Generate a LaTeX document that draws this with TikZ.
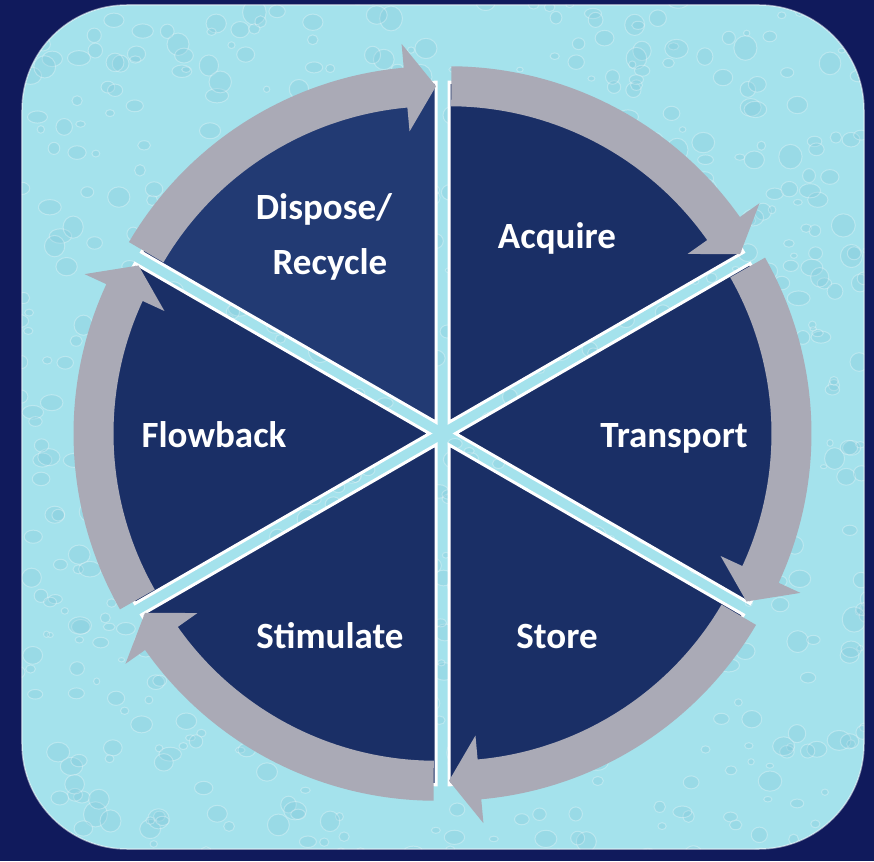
\documentclass[tikz,border=0pt]{standalone}
\usepackage{fontspec}
\setmainfont{Carlito}
\definecolor{bgnavy}{RGB}{16,26,92}
\definecolor{pane}{RGB}{164,226,236}
\definecolor{panedark}{RGB}{118,192,212}
\definecolor{sect}{RGB}{26,47,102}
\definecolor{sectlight}{RGB}{34,58,115}
\definecolor{arrowgray}{RGB}{170,170,182}
\tikzset{
  lbl/.style={text=white, font=\fontsize{37}{55}\selectfont\bfseries, anchor=base, inner sep=0pt},
  sectorfill/.style={draw=white, line width=3pt, line join=miter},
  arrowband/.style={fill=arrowgray}
}
\newcommand\drawsector[3]{% #1 start angle, #2 end angle, #3 colour
  \pgfmathsetmacro\mid{(#1+#2)/2}
  \pgfmathsetmacro\tst{#1-0.4}
  \pgfmathsetmacro\hb{#2+5.2}
  \begin{scope}[shift={(\mid:13)}]
    \filldraw[sectorfill, fill=#3] (0,0) -- (#1:340) arc[start angle=#1, end angle=#2, radius=340] -- cycle;
    \fill[arrowband] (\tst:356) arc[start angle=\tst, end angle=\hb, radius=356]
       -- (\hb:380) -- (#2:336) -- (\hb:292) -- (\hb:316)
       arc[start angle=\hb, end angle=\tst, radius=316] -- cycle;
  \end{scope}
}
\begin{document}
\begin{tikzpicture}[x=1pt,y=1pt]
\useasboundingbox (-442.5,-427.5) rectangle (431.5,433.5);
\fill[bgnavy] (-442.5,-427.5) rectangle (431.5,433.5);
\fill[pane, rounded corners=105pt] (-420.5,-415.5) rectangle (421.5,428.5);
\begin{scope}
  \clip[rounded corners=105pt] (-420.5,-415.5) rectangle (421.5,428.5);
  \pgfmathsetseed{11}
  \foreach \i in {1,...,900}{
    \pgfmathsetmacro\xx{rnd*860-430}
    \pgfmathsetmacro\yy{rnd*860-425}
    \pgfmathsetmacro\rr{3+rnd*9}
    \pgfmathsetmacro\ss{0.6+rnd*0.5}
    \fill[panedark, opacity=0.22] (\xx,\yy) ellipse [x radius=\rr, y radius=\rr*\ss];
    \draw[white, opacity=0.3, line width=1pt] (\xx,\yy) ellipse [x radius=\rr, y radius=\rr*\ss];
  }
\end{scope}
\draw[white, opacity=0.5, line width=1.5pt, rounded corners=105pt] (-420.5,-415.5) rectangle (421.5,428.5);
\drawsector{90}{30}{sect}
\drawsector{30}{-30}{sect}
\drawsector{-30}{-90}{sect}
\drawsector{270}{210}{sect}
\drawsector{210}{150}{sect}
\drawsector{150}{90}{sectlight}
\node[lbl] (acquire) at (114.5,184.5) {Acquire};
\node[lbl] (transport) at (231.5,-14.5) {Transport};
\node[lbl] (store) at (114.5,-214.5) {Store};
\node[lbl] (stimulate) at (-112.5,-214.5) {Stimulate};
\node[lbl] (flowback) at (-228.5,-14.5) {Flowback};
\node[lbl] (dispose) at (-118.5,213.5) {Dispose/};
\node[lbl] (recycle) at (-112.5,158.5) {Recycle};
\end{tikzpicture}
\end{document}
